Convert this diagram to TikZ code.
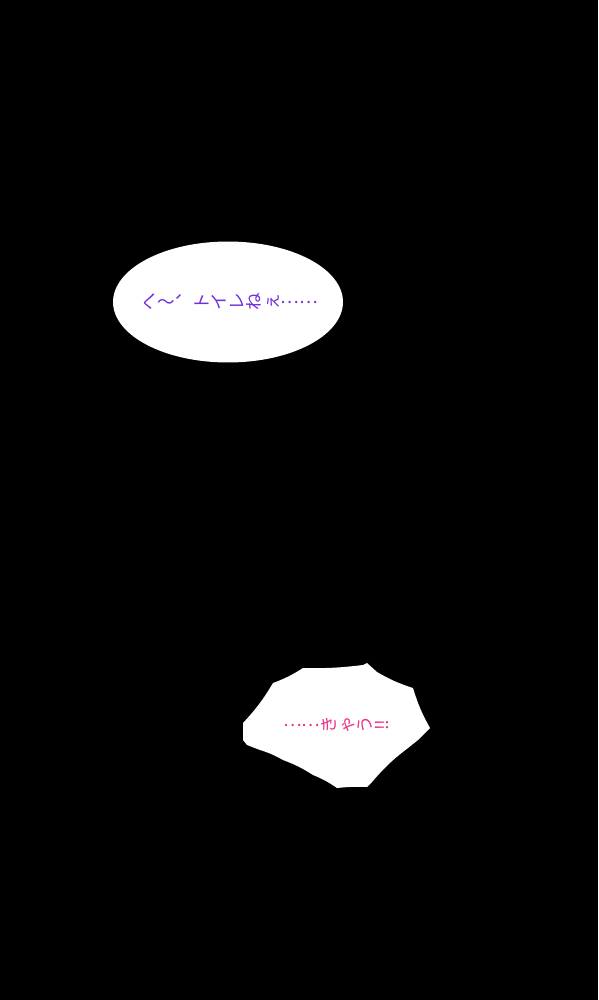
\documentclass[tikz,border=0pt]{standalone}
\usepackage{fontspec}
\newfontfamily\jpfont{Noto Sans CJK JP}
\usetikzlibrary{shapes.geometric}
\definecolor{voicepurple}{RGB}{112,46,222}
\definecolor{voicepink}{RGB}{236,48,140}
\newcommand{\tatechar}[1]{\rotatebox[origin=c]{90}{\rule[-0.12em]{0pt}{1em}#1}}
\newcommand{\tateten}{\rotatebox[origin=c]{-90}{\rule[-0.12em]{0pt}{1em}、}}
\newcommand{\tatedots}{\raisebox{0.32em}{……}}
\begin{document}
\begin{tikzpicture}[x=0.02cm, y=-0.02cm,
  bubble/.style={fill=white, draw=none},
  voice/.style={font=\jpfont\fontsize{10}{12}\selectfont, inner sep=0pt},
  calmvoice/.style={voice, text=voicepurple},
  panicvoice/.style={voice, text=voicepink}
]

% Page
\fill[black] (0,0) rectangle (598,1000);

% Oval balloon
\node[bubble, ellipse, minimum width=4.6cm, minimum height=2.42cm] (oval) at (228,302) {};
\node[calmvoice] (ovaltext) at (229,302)
  {\tatechar{へ}〜\tateten\tatechar{ト}\tatechar{イ}\tatechar{レ}\tatechar{ね}\tatechar{ぇ}\tatedots};

% Jagged balloon
\fill[bubble] (243,723) to[bend right=6] (273,683) to[bend right=6] (303,668)
  to[bend right=4] (363,665) -- (367,663) -- (377,672) to[bend right=6] (413,688)
  to[bend right=6] (430,728) -- (418,740) -- (408,748) to[bend right=6] (372,782)
  -- (367,787) to[bend right=4] (337,788) to[bend right=6] (313,775)
  to[bend right=6] (283,760) to[bend right=6] (260,750) -- (247,745) -- (243,740) -- cycle;
\node[panicvoice] (jaggedtext) at (337,725)
  {\tatedots\tatechar{き}\tatechar{ゃ}\tatechar{う}\tatechar{!!}};

\end{tikzpicture}
\end{document}
